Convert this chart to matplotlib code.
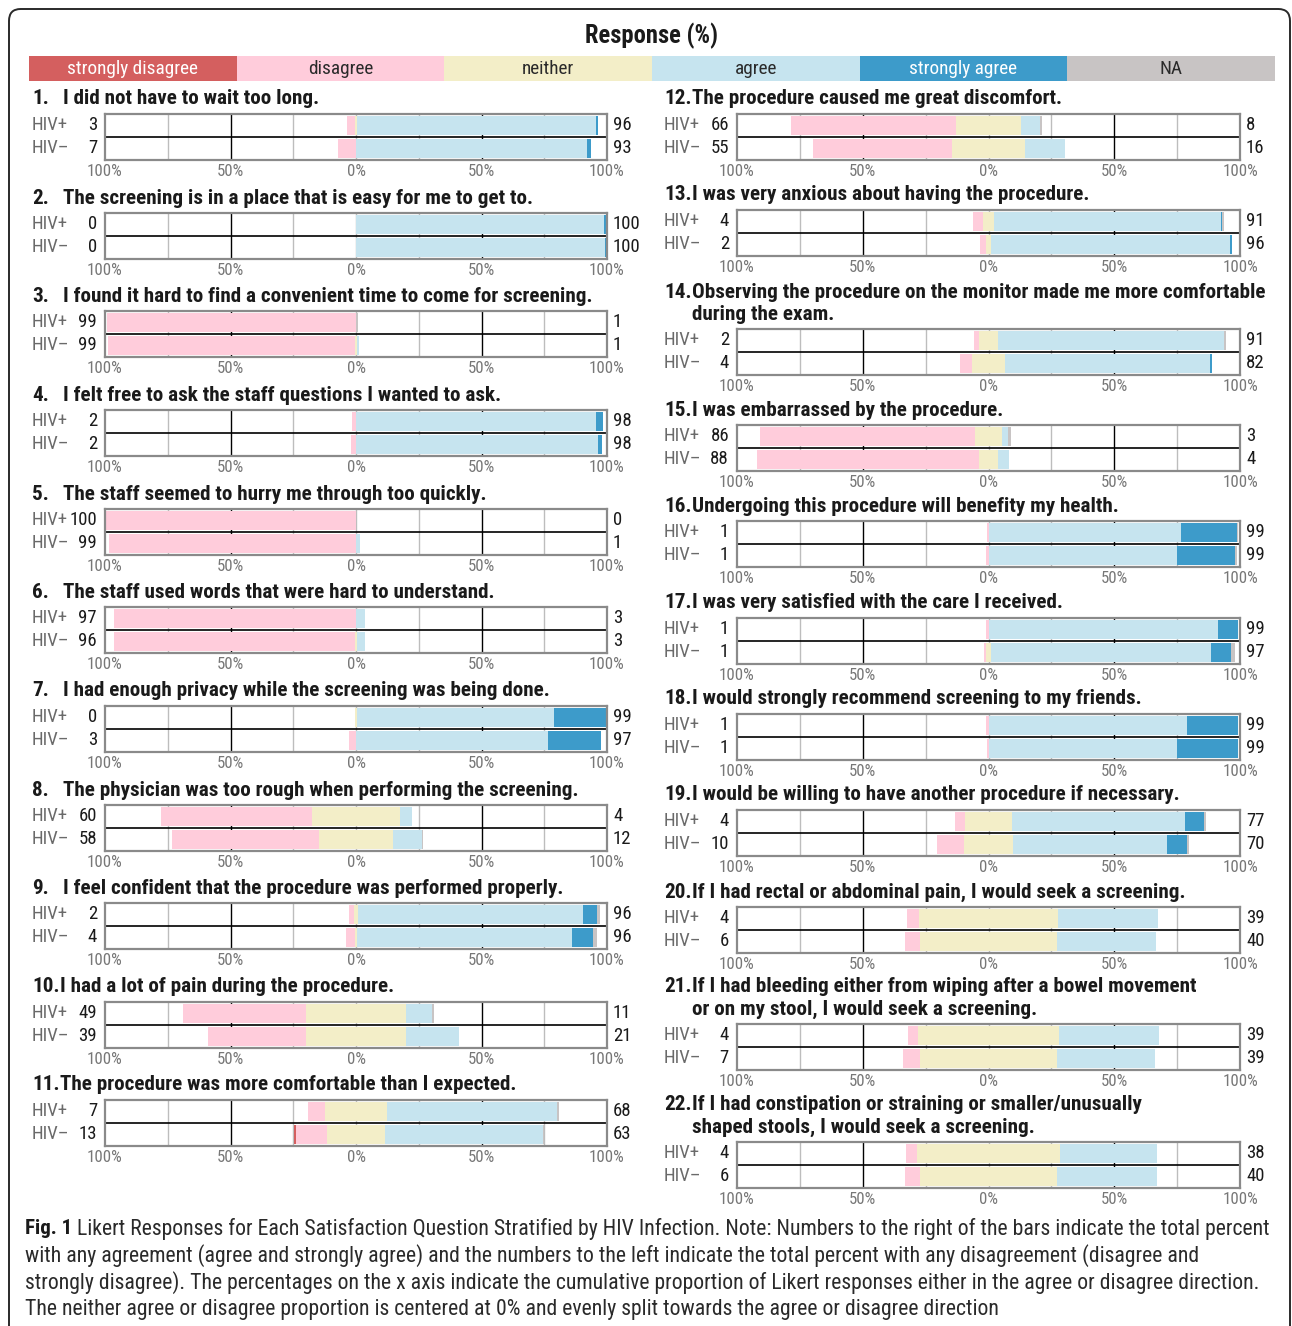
import matplotlib
matplotlib.use("Agg")
import matplotlib.pyplot as plt
from matplotlib import font_manager
from matplotlib.patches import FancyBboxPatch, Rectangle

W, H = 1292, 1326

categories = ['strongly disagree', 'disagree', 'neither', 'agree', 'strongly agree', 'NA']
colors = ['#d45f5f', '#ffccdb', '#f3eec8', '#c6e4ef', '#3d9bca', '#c8c4c4']
groups = ['HIV+', 'HIV\u2013']

questions = [
    "I did not have to wait too long.",
    "The screening is in a place that is easy for me to get to.",
    "I found it hard to find a convenient time to come for screening.",
    "I felt free to ask the staff questions I wanted to ask.",
    "The staff seemed to hurry me through too quickly.",
    "The staff used words that were hard to understand.",
    "I had enough privacy while the screening was being done.",
    "The physician was too rough when performing the screening.",
    "I feel confident that the procedure was performed properly.",
    "I had a lot of pain during the procedure.",
    "The procedure was more comfortable than I expected.",
    "The procedure caused me great discomfort.",
    "I was very anxious about having the procedure.",
    "Observing the procedure on the monitor made me more comfortable\nduring the exam.",
    "I was embarrassed by the procedure.",
    "Undergoing this procedure will benefity my health.",
    "I was very satisfied with the care I received.",
    "I would strongly recommend screening to my friends.",
    "I would be willing to have another procedure if necessary.",
    "If I had rectal or abdominal pain, I would seek a screening.",
    "If I had bleeding either from wiping after a bowel movement\nor on my stool, I would seek a screening.",
    "If I had constipation or straining or smaller/unusually\nshaped stools, I would seek a screening.",
]

# [strongly disagree, disagree, neither, agree, strongly agree, NA] in %
hiv_pos = [
    [0, 3.2, 0.8, 95.3, 0.7, 0],
    [0, 0, 0, 98.8, 1.2, 0],
    [0, 99.2, 0, 0, 0, 0.8],
    [0, 1.6, 0, 95.6, 2.8, 0],
    [0, 100, 0, 0, 0, 0],
    [0, 96.6, 0, 3.4, 0, 0],
    [0, 0, 1.0, 78.4, 20.6, 0],
    [0, 60.0, 35.4, 4.6, 0, 0],
    [0, 2.0, 1.6, 89.8, 5.4, 1.2],
    [0, 48.8, 40.2, 10.3, 0, 0.7],
    [0, 6.8, 25.0, 67.5, 0, 0.7],
    [0, 65.6, 26.2, 7.5, 0, 0.7],
    [0, 4.0, 4.6, 90.0, 0.7, 0.7],
    [0, 1.9, 7.6, 89.8, 0, 0.7],
    [0, 85.6, 10.9, 2.4, 0, 1.1],
    [0, 0.6, 0, 76.5, 22.4, 0.5],
    [0, 0.9, 0, 91.2, 7.9, 0],
    [0, 0.9, 0, 79.0, 20.1, 0],
    [0, 4.0, 18.8, 68.7, 7.6, 0.9],
    [0, 4.7, 55.6, 39.7, 0, 0],
    [0, 4.0, 56.4, 39.6, 0, 0],
    [0, 4.5, 56.8, 38.7, 0, 0],
]
hiv_neg = [
    [0, 7.0, 0, 92.0, 1.5, 0],
    [0, 0, 0, 99.2, 0.8, 0],
    [0, 98.8, 0.4, 1.0, 0, 0],
    [0, 1.9, 0, 96.3, 1.6, 0],
    [0, 98.5, 0, 1.5, 0, 0],
    [0, 96.3, 0.6, 3.1, 0, 0],
    [0, 2.8, 0, 76.3, 21.2, 0],
    [0, 58.4, 29.8, 11.2, 0, 0.6],
    [0, 3.6, 1.0, 85.6, 8.4, 1.4],
    [0, 38.9, 40.2, 21.0, 0, 0],
    [0.9, 12.4, 22.8, 63.0, 0, 0.6],
    [0, 55.1, 29.1, 15.8, 0, 0],
    [0, 2.3, 2.0, 95.1, 0.6, 0],
    [0, 4.7, 13.2, 81.5, 0.6, 0],
    [0, 88.3, 7.2, 4.5, 0, 0],
    [0, 0.9, 0, 75.1, 23.0, 0.9],
    [0, 0.9, 2.0, 87.5, 8.1, 1.5],
    [0, 0.7, 0, 74.9, 24.4, 0],
    [0, 10.7, 19.4, 61.3, 7.9, 0.7],
    [0, 6.3, 54.1, 39.6, 0, 0],
    [0, 6.8, 54.3, 38.9, 0, 0],
    [0, 6.1, 54.4, 39.9, 0, 0],
]

disagree_pos = [3, 0, 99, 2, 100, 97, 0, 60, 2, 49, 7, 66, 4, 2, 86, 1, 1, 1, 4, 4, 4, 4]
disagree_neg = [7, 0, 99, 2, 99, 96, 3, 58, 4, 39, 13, 55, 2, 4, 88, 1, 1, 1, 10, 6, 7, 6]
agree_pos = [96, 100, 1, 98, 0, 3, 99, 4, 96, 11, 68, 8, 91, 91, 3, 99, 99, 99, 77, 39, 39, 38]
agree_neg = [93, 100, 1, 98, 1, 3, 97, 12, 96, 21, 63, 16, 96, 82, 4, 99, 97, 99, 70, 40, 39, 40]

tick_vals = [-100, -50, 0, 50, 100]
tick_labels = ['100%', '50%', '0%', '50%', '100%']

caption_bold = "Fig. 1"
caption_lines = [
    " Likert Responses for Each Satisfaction Question Stratified by HIV Infection. Note: Numbers to the right of the bars indicate the total percent",
    "with any agreement (agree and strongly agree) and the numbers to the left indicate the total percent with any disagreement (disagree and",
    "strongly disagree). The percentages on the x axis indicate the cumulative proportion of Likert responses either in the agree or disagree direction.",
    "The neither agree or disagree proportion is centered at 0% and evenly split towards the agree or disagree direction",
]

# pick the narrowest sans face that is installed
def is_narrow(st):
    if isinstance(st, (int, float)):
        return st < 500
    return 'condensed' in str(st) or 'narrow' in str(st)

fonts = font_manager.fontManager.ttflist
family, stretch = 'Liberation Sans', 'normal'
for name in ['Liberation Sans Narrow', 'Roboto Condensed', 'Open Sans Condensed',
             'Noto Sans Condensed', 'DejaVu Sans Condensed']:
    if any(f.name == name for f in fonts):
        family = name
        break
else:
    for name in ['DejaVu Sans', 'Noto Sans', 'Roboto', 'Open Sans', 'Liberation Sans']:
        if any(f.name == name and is_narrow(f.stretch) for f in fonts):
            family, stretch = name, 'condensed'
            break

plt.rcParams['font.family'] = [family, 'DejaVu Sans']
plt.rcParams['font.stretch'] = stretch

# layout (pixels)
row_y = [[125, 224, 322, 421, 520, 618, 717, 816, 914, 1013, 1111],
         [125, 221, 340, 436, 532, 629, 725, 821, 918, 1035, 1153]]
col_x = [32, 664]
ax_x = [(105, 607), (737, 1240)]


def fx(x):
    return x / W


def fy(y):
    return 1 - y / H


fig = plt.figure(figsize=(W / 100, H / 100), dpi=100)
fig.canvas.draw()
renderer = fig.canvas.get_renderer()


def fit(s, target, weight='normal'):
    t = fig.text(0, 0, s, fontsize=10, fontweight=weight)
    w = t.get_window_extent(renderer).width
    t.remove()
    return 10 * target / w


fs_title = fit("Response (%)", 133, 'bold')
fs_q = fit("Observing the procedure on the monitor made me more comfortable", 575, 'bold')
fs_leg = fit("strongly disagree", 130)
fs_grp = fit("HIV+", 36)
fs_tick = fit("100%", 35)

# outer rounded frame
frame = FancyBboxPatch((fx(9), -0.05), fx(1281), fy(9) + 0.05,
                       boxstyle="round,pad=0,rounding_size=0.009",
                       transform=fig.transFigure, fill=False,
                       edgecolor='#2a2a2a', linewidth=1.4)
fig.add_artist(frame)

fig.text(fx(651), fy(36), "Response (%)", ha='center', va='center',
         fontsize=fs_title, fontweight='bold', color='#1a1a1a')

# legend strip
cell_w = (1275 - 29) / len(categories)
for i, cat in enumerate(categories):
    x0 = 29 + i * cell_w
    fig.add_artist(Rectangle((fx(x0), fy(81)), cell_w / W, 25 / H,
                             transform=fig.transFigure, facecolor=colors[i],
                             edgecolor='none'))
    tc = 'white' if i in (0, 4) else '#2a2a2a'
    fig.text(fx(x0 + cell_w / 2), fy(68.5), cat, ha='center', va='center',
             fontsize=fs_leg, color=tc)

for q in range(len(questions)):
    col = 0 if q < 11 else 1
    c = row_y[col][q if col == 0 else q - 11]
    xl, xr = ax_x[col]
    cx = col_x[col]

    # question title
    lines = questions[q].split('\n')
    indent = 31 if q < 9 else 28
    for k, line in enumerate(lines):
        yy = c - 26 - 22 * (len(lines) - 1 - k)
        if k == 0:
            fig.text(fx(cx), fy(yy), f"{q + 1}.", ha='left', va='center',
                     fontsize=fs_q, fontweight='bold', color='#1a1a1a')
        fig.text(fx(cx + indent), fy(yy), line, ha='left', va='center',
                 fontsize=fs_q, fontweight='bold', color='#1a1a1a')

    # group labels and totals
    left_nums = [disagree_pos[q], disagree_neg[q]]
    right_nums = [agree_pos[q], agree_neg[q]]
    for g in range(2):
        yy = c + 23 * g
        fig.text(fx(cx), fy(yy), groups[g], ha='left', va='center',
                 fontsize=fs_grp, color='#6a6a6a')
        fig.text(fx(cx + 65), fy(yy), str(left_nums[g]), ha='right', va='center',
                 fontsize=fs_grp, color='#1a1a1a')
        fig.text(fx(xr + 6), fy(yy), str(right_nums[g]), ha='left', va='center',
                 fontsize=fs_grp, color='#1a1a1a')

    ax = fig.add_axes([fx(xl), fy(c + 35), (xr - xl) / W, 46 / H])
    ax.set_xlim(-100, 100)
    ax.set_ylim(0, 2)

    for v in [-75, -25, 0, 25, 75]:
        ax.axvline(v, color='#bdbdbd', lw=1, zorder=1)
    for v in [-50, 50]:
        ax.axvline(v, color='black', lw=1, zorder=1)

    for g, vals in enumerate([hiv_pos[q], hiv_neg[q]]):
        y = 1.5 - g
        start = -(vals[0] + vals[1] + vals[2] / 2)
        lefts = []
        acc = start
        for v in vals:
            lefts.append(acc)
            acc += v
        ax.barh([y] * len(vals), vals, left=lefts, color=colors,
                height=0.86, zorder=2)

    ax.axhline(1, color='black', lw=1.2, zorder=3)

    for s in ax.spines.values():
        s.set_color('#8a8a8a')
        s.set_linewidth(1.6)
        s.set_zorder(4)
    ax.set_yticks([])
    ax.set_xticks(tick_vals)
    ax.set_xticklabels(tick_labels)
    ax.tick_params(axis='x', length=0, pad=3, labelsize=fs_tick, labelcolor='#777777')

# caption
t_bold = fig.text(fx(25), fy(1229), caption_bold, ha='left', va='center',
                  fontsize=15, fontweight='bold', color='#1a1a1a')
bw = t_bold.get_window_extent(renderer).width
t_first = fig.text(fx(25 + bw), fy(1229), caption_lines[0], ha='left', va='center',
                   fontsize=15, color='#2a2a2a')
fw = t_first.get_window_extent(renderer).width
cap_size = 15 * (1275 - 25 - bw) / fw
t_first.set_fontsize(cap_size)
for i, line in enumerate(caption_lines[1:]):
    fig.text(fx(25), fy(1256 + 27 * i), line, ha='left', va='center',
             fontsize=cap_size, color='#2a2a2a')

fig.savefig('out.png', dpi=100)
